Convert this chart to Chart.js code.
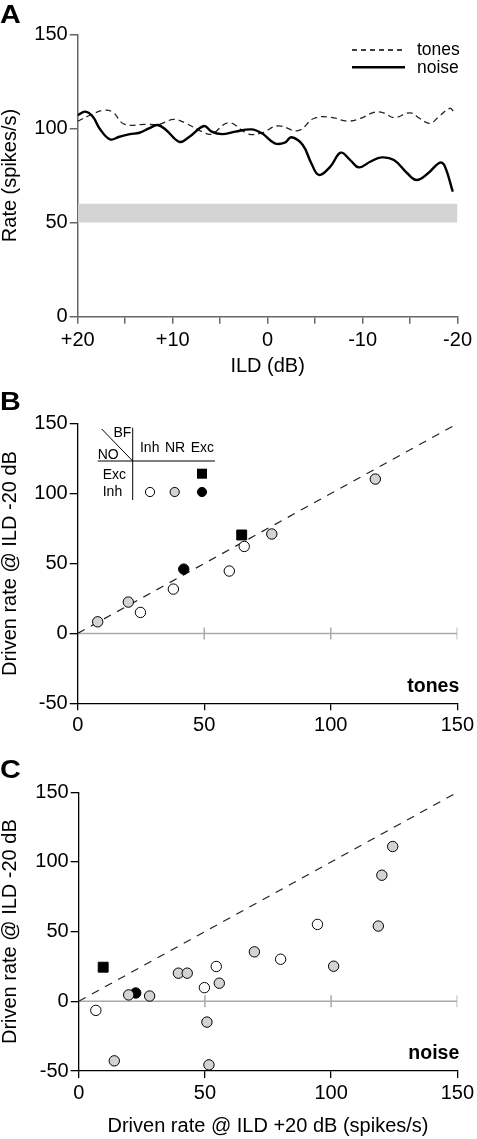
<!DOCTYPE html>
<html>
<head>
<meta charset="utf-8">
<script src="https://cdn.jsdelivr.net/npm/chart.js@4/dist/chart.umd.min.js"></script>
<style>
  html, body { margin: 0; padding: 0; background: #fff; }
  body { width: 477px; height: 1139px; position: relative; overflow: hidden; }
  canvas { position: absolute; left: 0; }
</style>
</head>
<body>
<canvas id="chartA" width="477" height="380" style="top:0"></canvas>
<canvas id="chartB" width="477" height="375" style="top:380px"></canvas>
<canvas id="chartC" width="477" height="384" style="top:755px"></canvas>
<script>
// ---- panel A: rate vs ILD ----
const ildTones = [20, 18.7, 17.3, 16.3, 15.1, 12.8, 11.4, 9.9, 8.6, 6.9, 5.9, 4.1, 2.0, 0.6, -1.1, -3.2, -4.9, -6.7, -8.4, -9.8, -11.2, -12.2, -13.3, -15.0, -16.0, -17.1, -18.1, -19.2, -19.6];
const rateTones = [103.8, 107.0, 109.6, 108.6, 102.3, 102.2, 102.2, 104.8, 102.7, 98.3, 97.0, 103.0, 97.0, 97.7, 101.4, 98.8, 105.4, 105.9, 103.9, 105.4, 108.5, 108.3, 105.7, 108.3, 105.4, 102.7, 106.6, 110.7, 109.0];

const ildNoise = [20, 19.2, 18.4, 17.7, 16.6, 15.6, 14.5, 13.5, 12.5, 11.6, 10.7, 9.3, 8.3, 6.7, 5.9, 4.8, 3.4, 1.7, 0.6, -0.75, -1.8, -2.5, -3.7, -4.6, -5.4, -6.6, -7.7, -8.7, -9.6, -10.8, -12.0, -13.3, -14.7, -15.7, -16.9, -18.1, -18.6, -19.5];
const rateNoise = [107.1, 108.9, 106.2, 100.0, 94.2, 95.6, 97.0, 97.7, 100.0, 101.8, 99.2, 92.9, 95.3, 101.3, 98.3, 97.0, 98.3, 99.5, 97.4, 92.1, 92.4, 95.3, 91.2, 81.5, 75.3, 79.7, 87.1, 83.2, 79.3, 82.3, 84.6, 83.2, 76.2, 72.6, 76.2, 81.8, 80.6, 66.4];

// spontaneous-rate band
const bandX = [20, -20];
const bandLow = [50, 50];
const bandHigh = [60, 60];

// ---- panel B: tones ----
const tonesNrX = [7.9, 20.0, 76.7, 117.6];
const tonesNrY = [8.3, 22.4, 71.1, 110.4];
const tonesInhX = [24.8, 37.8, 59.9, 65.8];
const tonesInhY = [15.0, 31.7, 44.6, 62.2];
const tonesExcX = [41.9];
const tonesExcY = [46.0];
const tonesNoExcX = [64.8];
const tonesNoExcY = [70.4];

// ---- panel C: noise ----
const noiseNrX = [19.8, 28.1, 14.1, 39.5, 43.0, 55.7, 50.8, 51.6, 69.6, 101.0, 118.7, 120.1, 124.4];
const noiseNrY = [4.6, 3.8, -42.7, 20.2, 20.2, 13.0, -14.9, -45.6, 35.5, 25.2, 54.0, 90.5, 111.1];
const noiseInhX = [6.8, 49.8, 54.5, 80.0, 94.6];
const noiseInhY = [-6.5, 9.8, 25.0, 30.2, 55.2];
const noiseExcX = [22.6];
const noiseExcY = [6.0];
const noiseNoExcX = [9.7];
const noiseNoExcY = [24.5];

const unityX = [0, 150];
const unityY = [0, 150];
const zeroX = [0, 50, 100, 150];
const zeroY = [0, 0, 0, 0];

const FONT = "'Liberation Sans', Arial, Helvetica, sans-serif";
Chart.defaults.font.family = FONT;
Chart.defaults.font.size = 20;
Chart.defaults.color = '#000';

function pairs(xs, ys) {
  return xs.map((x, i) => ({ x: x, y: ys[i] }));
}

function extras(draw) {
  return {
    id: 'extras',
    afterDraw(chart) {
      const ctx = chart.ctx;
      ctx.save();
      draw(ctx, chart);
      ctx.restore();
    }
  };
}

function axis(color, width, tickLen, extra) {
  return Object.assign({
    type: 'linear',
    border: { color: color, width: width },
    grid: { drawOnChartArea: false, color: color, lineWidth: width, tickLength: tickLen },
  }, extra);
}

function panelLetter(ctx, letter, y) {
  ctx.save();
  ctx.fillStyle = '#000';
  ctx.font = 'bold 25px ' + FONT;
  ctx.scale(1.15, 1);
  ctx.fillText(letter, 0, y);
  ctx.restore();
}

// ---------- A ----------
new Chart(document.getElementById('chartA'), {
  type: 'line',
  data: {
    datasets: [
      { data: pairs(ildTones, rateTones), borderColor: '#222', borderWidth: 1.3, borderDash: [6, 4],
        pointRadius: 0, tension: 0.4, fill: false, order: 1 },
      { data: pairs(ildNoise, rateNoise), borderColor: '#000', borderWidth: 2.4,
        pointRadius: 0, tension: 0.4, fill: false, order: 0 },
      { data: pairs(bandX, bandLow), borderWidth: 0, pointRadius: 0, fill: false, order: 6 },
      { data: pairs(bandX, bandHigh), borderWidth: 0, pointRadius: 0, fill: '-1',
        backgroundColor: '#d4d4d4', order: 5 }
    ]
  },
  options: {
    responsive: false,
    animation: false,
    events: [],
    layout: { padding: { top: 34.3, right: 15.7, left: 0, bottom: 0 } },
    plugins: { legend: { display: false }, tooltip: { enabled: false } },
    scales: {
      x: axis('#666', 1.5, 7, {
        reverse: true, min: -20, max: 20,
        ticks: { stepSize: 5, autoSkip: false, maxRotation: 0, padding: 5,
          callback: v => (v % 10 !== 0 ? '' : (v > 0 ? '+' + v : String(v))) },
        title: { display: true, text: 'ILD (dB)', padding: { top: 0, bottom: 4 }, font: { lineHeight: 1 } },
        afterFit: s => { s.height = 63.3; }
      }),
      y: axis('#666', 1.5, 8, {
        min: 0, max: 150,
        ticks: { stepSize: 50, padding: 2 },
        title: { display: true, text: 'Rate (spikes/s)', padding: 0, font: { lineHeight: 1 } },
        afterFit: s => { s.width = 77.7; }
      })
    }
  },
  plugins: [extras((ctx) => {
    panelLetter(ctx, 'A', 22.7);
    ctx.strokeStyle = '#000';
    ctx.fillStyle = '#000';
    ctx.lineWidth = 1.3;
    ctx.setLineDash([5, 4]);
    ctx.beginPath(); ctx.moveTo(352, 50); ctx.lineTo(405, 50); ctx.stroke();
    ctx.setLineDash([]);
    ctx.lineWidth = 2.4;
    ctx.beginPath(); ctx.moveTo(352, 67.3); ctx.lineTo(405, 67.3); ctx.stroke();
    ctx.font = '17.5px ' + FONT;
    ctx.fillText('tones', 417, 55);
    ctx.fillText('noise', 417, 72.5);
  })]
});

// ---------- B and C ----------
function scatterPanel(id, sets, cfg) {
  const pointSet = (xs, ys, fillColor, style, r) => ({
    data: pairs(xs, ys), backgroundColor: fillColor, borderColor: '#000', borderWidth: 1,
    pointStyle: style, pointRadius: r, order: 0
  });
  return new Chart(document.getElementById(id), {
    type: 'scatter',
    data: {
      datasets: [
        { data: pairs(unityX, unityY), showLine: true, borderColor: '#222', borderWidth: 1.2,
          borderDash: [8, 7], pointRadius: 0, order: 3 },
        { data: pairs(zeroX, zeroY), showLine: true, borderColor: '#aaa', borderWidth: 1.5,
          pointStyle: 'line', rotation: 90, pointRadius: [0, 6, 6, 6], pointBorderColor: '#aaa',
          pointBorderWidth: 1.5, order: 4 },
        pointSet(sets.nr[0], sets.nr[1], '#d3d3d3', 'circle', 5.2),
        pointSet(sets.inh[0], sets.inh[1], '#fff', 'circle', 5.2),
        pointSet(sets.exc[0], sets.exc[1], '#000', 'circle', 5.2),
        pointSet(sets.noExc[0], sets.noExc[1], '#000', 'rect', 7)
      ]
    },
    options: {
      responsive: false,
      animation: false,
      events: [],
      layout: { padding: cfg.padding },
      plugins: { legend: { display: false }, tooltip: { enabled: false } },
      scales: {
        x: axis('#000', 1.3, 7, {
          min: 0, max: 150,
          ticks: { stepSize: 50, maxRotation: 0, padding: 3 },
          title: cfg.xTitle ? { display: true, text: cfg.xTitle, padding: { top: 0, bottom: 3 }, font: { lineHeight: 1 } } : { display: false },
          afterFit: s => { s.height = cfg.xHeight; }
        }),
        y: axis('#000', 1.3, 8, {
          min: -50, max: 150,
          ticks: { stepSize: 50, padding: 2 },
          title: { display: true, text: 'Driven rate @ ILD -20 dB', padding: 0, font: { lineHeight: 1 } },
          afterFit: s => { s.width = cfg.yWidth; }
        })
      }
    },
    plugins: [extras(cfg.draw)]
  });
}

scatterPanel('chartB', {
  nr: [tonesNrX, tonesNrY], inh: [tonesInhX, tonesInhY],
  exc: [tonesExcX, tonesExcY], noExc: [tonesNoExcX, tonesNoExcY]
}, {
  padding: { top: 43.7, right: 18.7, left: 0, bottom: 0 },
  xHeight: 51.7, yWidth: 77.7,
  draw: (ctx) => {
    panelLetter(ctx, 'B', 30);
    ctx.fillStyle = '#000';
    ctx.font = 'bold 19.5px ' + FONT;
    ctx.textAlign = 'right';
    ctx.fillText('tones', 459.3, 311.7);
    // inset key: NO type (rows) by BF type (columns)
    ctx.strokeStyle = '#000';
    ctx.lineWidth = 1;
    ctx.beginPath();
    ctx.moveTo(101.7, 49); ctx.lineTo(132.7, 81);
    ctx.moveTo(132.7, 47.7); ctx.lineTo(132.7, 120);
    ctx.moveTo(97.7, 81); ctx.lineTo(215, 81);
    ctx.stroke();
    ctx.font = '14px ' + FONT;
    ctx.textAlign = 'left';
    ctx.fillText('BF', 113.5, 56.7);
    ctx.fillText('NO', 97.7, 79.3);
    ctx.fillText('Exc', 102.7, 98.7);
    ctx.fillText('Inh', 102.7, 115.7);
    ctx.textAlign = 'center';
    ctx.fillText('Inh', 149.7, 72.3);
    ctx.fillText('NR', 175, 72.3);
    ctx.fillText('Exc', 202.3, 72.3);
    ctx.fillStyle = '#000';
    ctx.fillRect(197, 88.7, 10, 10);
    const keys = [[150, '#fff'], [174.7, '#d3d3d3'], [202, '#000']];
    keys.forEach(([cx, col]) => {
      ctx.beginPath();
      ctx.arc(cx, 112, 4.6, 0, Math.PI * 2);
      ctx.fillStyle = col;
      ctx.fill();
      ctx.stroke();
    });
  }
});

scatterPanel('chartC', {
  nr: [noiseNrX, noiseNrY], inh: [noiseInhX, noiseInhY],
  exc: [noiseExcX, noiseExcY], noExc: [noiseNoExcX, noiseNoExcY]
}, {
  padding: { top: 37.3, right: 17.7, left: 0, bottom: 0 },
  xHeight: 68, yWidth: 78.7,
  xTitle: 'Driven rate @ ILD +20 dB (spikes/s)',
  draw: (ctx) => {
    panelLetter(ctx, 'C', 23.3);
    ctx.fillStyle = '#000';
    ctx.font = 'bold 19.5px ' + FONT;
    ctx.textAlign = 'right';
    ctx.fillText('noise', 459.3, 304);
  }
});
</script>
</body>
</html>
